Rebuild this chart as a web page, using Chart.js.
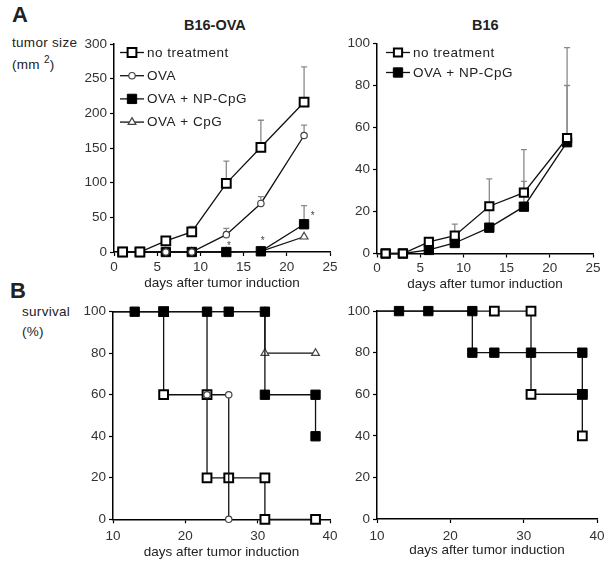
<!DOCTYPE html>
<html>
<head>
<meta charset="utf-8">
<script src="https://cdn.jsdelivr.net/npm/chart.js@4.4.0/dist/chart.umd.min.js"></script>
<style>
  body { margin: 0; background: #fff; width: 612px; height: 566px; position: relative; overflow: hidden;
         font-family: 'Liberation Sans', Arial, sans-serif; color: #222; }
  .box { position: absolute; }
  .lbl { position: absolute; white-space: nowrap; line-height: 1; }
  .bold { font-weight: bold; }
</style>
</head>
<body>
<div class="lbl bold" style="left:12px;top:4px;font-size:22px">A</div>
<div class="lbl bold" style="left:10px;top:280px;font-size:22px">B</div>
<div class="lbl bold" style="left:184px;top:18px;font-size:14.5px">B16-OVA</div>
<div class="lbl bold" style="left:472px;top:18px;font-size:14.5px">B16</div>
<div class="lbl" style="left:12px;top:36px;font-size:13.5px;letter-spacing:0.3px">tumor size</div>
<div class="lbl" style="left:12px;top:55px;font-size:13.5px;letter-spacing:0.3px">(mm <sup style="font-size:10px">2</sup>)</div>
<div class="lbl" style="left:22px;top:305px;font-size:13.5px;letter-spacing:0.3px">survival</div>
<div class="lbl" style="left:22px;top:325px;font-size:13.5px;letter-spacing:0.3px">(%)</div>

<div class="box" style="left:0;top:30px;width:345px;height:262px"><canvas id="tumorOva"></canvas></div>
<div class="box" style="left:345px;top:30px;width:267px;height:262px"><canvas id="tumorB16"></canvas></div>
<div class="box" style="left:0;top:300px;width:345px;height:262px"><canvas id="survOva"></canvas></div>
<div class="box" style="left:345px;top:300px;width:267px;height:262px"><canvas id="survB16"></canvas></div>

<script>
// ---- data: tumor size (mm2), B16-OVA ----
const tumorDays = [1, 3, 6, 9, 13, 17, 22];
const ovaNoTreat = [0, 0, 16, 29, 99, 151, 216];
const ovaNoTreatErr = [0, 0, 0, 8, 32, 39, 51];
const ovaOva = [0, 0, 0, 0, 25, 70, 168];
const ovaOvaErr = [0, 0, 0, 0, 9, 10, 15];
const ovaNpCpg = [0, 0, 0, 0, 0, 1, 40];
const ovaNpCpgErr = [0, 0, 0, 0, 0, 0, 27];
const ovaCpg = [0, 0, 0, 0, 0, 1, 22];
const ovaCpgErr = [0, 0, 0, 0, 0, 0, 0];
const ovaStars = [{ x: 13.3, y: 9 }, { x: 17.2, y: 15 }, { x: 23, y: 52 }];

// ---- data: tumor size, B16 ----
const b16NoTreat = [0, 0, 5.5, 8.5, 22.5, 29, 55];
const b16NoTreatErr = [0, 0, 0, 5.5, 13, 20.5, 43];
const b16NpCpg = [0, 0, 1.7, 5, 12.3, 22.3, 53];
const b16NpCpgErr = [0, 0, 0, 0, 10, 12, 27];

// ---- data: survival (%), B16-OVA ----
const sOvaNoTreatDays = [10, 17, 17, 23, 23, 26, 31, 31, 38];
const sOvaNoTreat = [100, 100, 60, 60, 20, 20, 20, 0, 0];
const sOvaOvaDays = [10, 23, 23, 26, 26];
const sOvaOva = [100, 100, 60, 60, 0];
const sOvaNpCpgDays = [10, 13, 17, 23, 26, 31, 31, 38, 38];
const sOvaNpCpg = [100, 100, 100, 100, 100, 100, 60, 60, 40];
const sOvaCpgDays = [10, 31, 31, 38];
const sOvaCpg = [100, 100, 80, 80];

// ---- data: survival (%), B16 ----
const sB16NoTreatDays = [10, 26, 31, 31, 38, 38];
const sB16NoTreat = [100, 100, 100, 60, 60, 40];
const sB16NpCpgDays = [10, 13, 17, 23, 23, 26, 31, 38, 38];
const sB16NpCpg = [100, 100, 100, 100, 80, 80, 80, 80, 60];

Chart.defaults.font.family = "'Liberation Sans', Arial, sans-serif";
Chart.defaults.color = '#333';
Chart.defaults.animation = false;

const pts = (xs, ys) => xs.map((x, i) => ({ x: x, y: ys[i] }));

// marker styles
const openSquare = { pointStyle: 'rect', pointRadius: 6.2, pointBackgroundColor: '#fff', pointBorderColor: '#000', pointBorderWidth: 2 };
const fillSquare = { pointStyle: 'rect', pointRadius: 6.6, pointBackgroundColor: '#000', pointBorderColor: '#000', pointBorderWidth: 1 };
const openCircle = { pointStyle: 'circle', pointRadius: 3.2, pointBackgroundColor: '#fff', pointBorderColor: '#444', pointBorderWidth: 1.2 };
const openTriangle = { pointStyle: 'triangle', pointRadius: 4.5, pointBackgroundColor: '#fff', pointBorderColor: '#444', pointBorderWidth: 1.2 };

function series(label, xs, ys, style, extra) {
    return Object.assign({
        label: label, data: pts(xs, ys), borderColor: '#111', borderWidth: 1.3,
        fill: false, tension: 0, clip: false
    }, style, extra || {});
}

// survival curves start on the axis without a marker
function survival(label, xs, ys, style, order) {
    const radii = xs.map((x, i) => i === 0 ? 0 : style.pointRadius);
    return series(label, xs, ys, style, { pointRadius: radii, order: order });
}

// upward SD bars, drawn behind the lines
const errorBars = {
    id: 'errorBars',
    beforeDatasetsDraw(chart) {
        const { ctx, scales: { x, y } } = chart;
        ctx.save();
        ctx.strokeStyle = '#8a8a8a';
        ctx.lineWidth = 1.3;
        chart.data.datasets.forEach(ds => {
            if (!ds.errors) return;
            ds.data.forEach((p, j) => {
                const e = ds.errors[j];
                if (!e) return;
                const px = x.getPixelForValue(p.x);
                const top = y.getPixelForValue(p.y + e);
                ctx.beginPath();
                ctx.moveTo(px, y.getPixelForValue(p.y));
                ctx.lineTo(px, top);
                ctx.moveTo(px - 3, top);
                ctx.lineTo(px + 3, top);
                ctx.stroke();
            });
        });
        ctx.restore();
    }
};

const stars = {
    id: 'stars',
    afterDatasetsDraw(chart, args, opts) {
        if (!opts.marks) return;
        const { ctx, scales: { x, y } } = chart;
        ctx.save();
        ctx.fillStyle = '#444';
        ctx.font = "10px 'Liberation Sans', Arial, sans-serif";
        ctx.textAlign = 'center';
        ctx.textBaseline = 'middle';
        opts.marks.forEach(m => ctx.fillText('*', x.getPixelForValue(m.x), y.getPixelForValue(m.y)));
        ctx.restore();
    }
};

// legend drawn as "-marker-" followed by the label
const lineLegend = {
    id: 'lineLegend',
    afterDraw(chart, args, opts) {
        if (!opts.show) return;
        const ctx = chart.ctx;
        ctx.save();
        chart.data.datasets.forEach((ds, i) => {
            const y = opts.y + i * opts.gap;
            const mx = opts.x + opts.len / 2;
            ctx.strokeStyle = '#111';
            ctx.lineWidth = 1.3;
            ctx.beginPath();
            ctx.moveTo(opts.x, y);
            ctx.lineTo(opts.x + opts.len, y);
            ctx.stroke();
            ctx.fillStyle = ds.pointBackgroundColor;
            ctx.strokeStyle = ds.pointBorderColor;
            ctx.lineWidth = ds.pointBorderWidth;
            Chart.helpers.drawPoint(ctx, { pointStyle: ds.pointStyle, rotation: 0, radius: ds.pointRadius, borderWidth: ds.pointBorderWidth }, mx, y);
            ctx.fillStyle = '#222';
            ctx.font = "13.5px 'Liberation Sans', Arial, sans-serif";
            ctx.letterSpacing = '0.5px';
            ctx.textBaseline = 'middle';
            ctx.fillText(ds.label, opts.x + opts.len + 3, y + 0.5);
        });
        ctx.restore();
    }
};

function axis(min, max, step) {
    return {
        type: 'linear', min: min, max: max,
        grid: { drawOnChartArea: false, color: '#000', tickLength: 4, tickWidth: 1.2 },
        border: { color: '#000', width: 1.5 },
        ticks: { stepSize: step, color: '#333', font: { size: 13.5 }, padding: 3, maxRotation: 0, autoSkip: false }
    };
}

function makeOptions(cfg) {
    const x = axis(cfg.x[0], cfg.x[1], cfg.x[2]);
    x.title = { display: true, text: 'days after tumor induction', color: '#222', font: { size: 13.5 }, padding: { top: 0, bottom: cfg.titlePad } };
    x.ticks.padding = cfg.xTickPad;
    x.afterFit = s => { s.height = cfg.xHeight; };
    const y = axis(cfg.y[0], cfg.y[1], cfg.y[2]);
    y.afterFit = s => { s.width = cfg.yWidth; };
    return {
        responsive: true,
        maintainAspectRatio: false,
        layout: { padding: { top: cfg.padTop, right: cfg.padRight, left: 0, bottom: 0 } },
        plugins: {
            legend: { display: false },
            tooltip: { enabled: false },
            lineLegend: cfg.legend || { show: false },
            stars: { marks: cfg.stars || null }
        },
        scales: { x: x, y: y }
    };
}

const plugins = [errorBars, stars, lineLegend];

// A, B16-OVA
new Chart(document.getElementById('tumorOva'), {
    type: 'line',
    data: {
        datasets: [
            series('no treatment', tumorDays, ovaNoTreat, openSquare, { errors: ovaNoTreatErr }),
            series('OVA', tumorDays, ovaOva, openCircle, { errors: ovaOvaErr }),
            series('OVA + NP-CpG', tumorDays, ovaNpCpg, fillSquare, { errors: ovaNpCpgErr }),
            series('OVA + CpG', tumorDays, ovaCpg, openTriangle, { errors: ovaCpgErr })
        ]
    },
    options: makeOptions({
        x: [0, 25, 5], y: [0, 300, 50], yWidth: 114, xHeight: 40, padTop: 14, padRight: 15,
        titlePad: 1, xTickPad: 3, stars: ovaStars,
        legend: { show: true, x: 120, len: 24, y: 22.5, gap: 23.2 }
    }),
    plugins: plugins
});

// A, B16
new Chart(document.getElementById('tumorB16'), {
    type: 'line',
    data: {
        datasets: [
            series('no treatment', tumorDays, b16NoTreat, openSquare, { errors: b16NoTreatErr, pointRadius: 5.8 }),
            series('OVA + NP-CpG', tumorDays, b16NpCpg, fillSquare, { errors: b16NpCpgErr })
        ]
    },
    options: makeOptions({
        x: [0, 25, 5], y: [0, 100, 20], yWidth: 32, xHeight: 38.5, padTop: 13.5, padRight: 19,
        titlePad: 0, xTickPad: 3,
        legend: { show: true, x: 41, len: 24, y: 22.5, gap: 20 }
    }),
    plugins: plugins
});

// B, B16-OVA
new Chart(document.getElementById('survOva'), {
    type: 'line',
    data: {
        datasets: [
            survival('no treatment', sOvaNoTreatDays, sOvaNoTreat, openSquare, 2),
            survival('OVA', sOvaOvaDays, sOvaOva, openCircle, 1),
            survival('OVA + NP-CpG', sOvaNpCpgDays, sOvaNpCpg, fillSquare, 0),
            survival('OVA + CpG', sOvaCpgDays, sOvaCpg, openTriangle, 3)
        ]
    },
    options: makeOptions({
        x: [10, 40, 10], y: [0, 100, 20], yWidth: 113, xHeight: 42.7, padTop: 11.7, padRight: 15,
        titlePad: 2, xTickPad: 5
    }),
    plugins: plugins
});

// B, B16
new Chart(document.getElementById('survB16'), {
    type: 'line',
    data: {
        datasets: [
            survival('no treatment', sB16NoTreatDays, sB16NoTreat, openSquare, 1),
            survival('OVA + NP-CpG', sB16NpCpgDays, sB16NpCpg, fillSquare, 0)
        ]
    },
    options: makeOptions({
        x: [10, 40, 10], y: [0, 100, 20], yWidth: 32, xHeight: 43, padTop: 10, padRight: 15,
        titlePad: 4, xTickPad: 5
    }),
    plugins: plugins
});
</script>
</body>
</html>
